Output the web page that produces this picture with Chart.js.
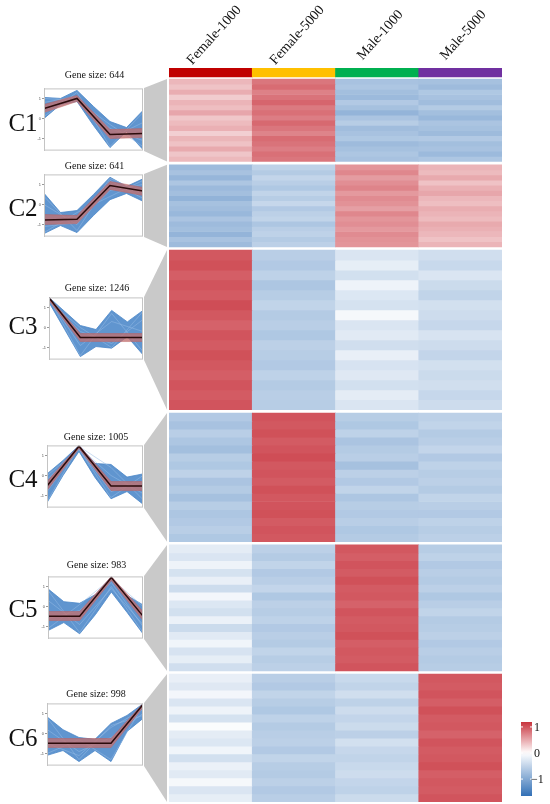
<!DOCTYPE html>
<html lang="en">
<head>
<meta charset="UTF-8">
<title>Gene expression clusters</title>
<script src="https://cdn.jsdelivr.net/npm/chart.js"></script>
<style>
    body {
        margin: 0;
        background: #fff;
        font-family: "Liberation Serif", "Times New Roman", serif;
        color: #111;
    }
    #page {
        position: relative;
        width: 550px;
        height: 804px;
        overflow: hidden;
    }
    canvas { position: absolute; }
    .lab { position: absolute; white-space: nowrap; line-height: 1; }
    .clu { font-size: 25px; transform: translate(-50%, -50%); }
    .gsz { font-size: 10px; transform: translate(-50%, -50%); }
    .col { font-size: 14px; transform: translate(-50%, -50%) rotate(-48deg); }
    .cbl { font-size: 12px; transform: translateY(-50%); }
</style>
</head>
<body>
<div id="page">
    <canvas id="heat" width="550" height="804" style="left:0;top:0"></canvas>
</div>

<script>
// ---- data ----
const columns = ['Female-1000', 'Female-5000', 'Male-1000', 'Male-5000'];
const groupColors = ['#c00000', '#ffc000', '#00b050', '#7030a0'];
const clusterNames = ['C1', 'C2', 'C3', 'C4', 'C5', 'C6'];
const geneSizes = [644, 641, 1246, 1005, 983, 998];
const legendTicks = [1, 0, -1];

// profile plots: x positions of the 4 conditions and of the envelope samples
const profX = [1, 2, 3, 4];
const envX = [1, 1.5, 2, 2.5, 3, 3.5, 4];

const centroids = [
    [0.5, 1.0, -0.8, -0.75],
    [-0.77, -0.74, 0.95, 0.67],
    [1.48, -0.5, -0.5, -0.5],
    [-0.52, 1.46, -0.52, -0.52],
    [-0.48, -0.48, 1.44, -0.48],
    [-0.48, -0.48, -0.48, 1.44]
];
const coreUpper = [
    [0.7, 1.15, -0.55, -0.5],
    [-0.5, -0.55, 1.15, 0.85],
    [1.5, -0.3, -0.3, -0.3],
    [-0.3, 1.5, -0.3, -0.3],
    [-0.25, -0.25, 1.5, -0.25],
    [-0.25, -0.25, -0.25, 1.5]
];
const coreLower = [
    [0.3, 0.85, -1.0, -0.95],
    [-1.0, -0.95, 0.75, 0.45],
    [1.35, -0.7, -0.7, -0.7],
    [-0.75, 1.35, -0.75, -0.75],
    [-0.7, -0.7, 1.3, -0.7],
    [-0.7, -0.7, -0.7, 1.3]
];
const upperEnv = [
    [1.05, 1.0, 1.4, 0.6, -0.15, -0.45, 0.4],
    [0.56, -0.4, -0.3, 0.5, 1.36, 0.9, 1.28],
    [1.5, 0.8, 0.1, -0.1, 0.85, 0.28, 0.85],
    [0.08, 0.75, 1.5, 0.6, 0.55, -0.08, 0.08],
    [0.88, 0.24, 0.16, 0.6, 1.48, 0.55, 0.08],
    [0.83, 0.19, -0.2, -0.29, 0.5, 0.9, 1.48]
];
const lowerEnv = [
    [0.0, 0.7, 0.85, -0.35, -1.45, -0.65, -1.55],
    [-1.45, -1.05, -1.4, -0.55, 0.24, 0.55, 0.16],
    [1.25, -0.1, -1.45, -0.95, -1.03, -0.46, -1.36],
    [-1.35, 0.0, 1.2, -0.1, -1.16, -0.8, -1.43],
    [-1.2, -0.8, -1.36, -0.4, 0.72, -0.3, -1.36],
    [-1.09, -0.85, -1.4, -0.85, -1.4, 0.1, 0.75]
];
// a few individual gene traces per cluster (light strands in the bundle)
const geneTraces = [
    [[1.0, 0.9, -0.3, -1.4], [0.1, 1.3, -1.4, 0.3], [0.8, 1.1, -1.0, -0.2], [0.3, 0.95, -0.5, -1.1]],
    [[0.4, -1.3, 1.2, 0.3], [-1.4, -0.4, 0.4, 1.2], [0.0, -1.0, 1.3, 0.6], [-1.1, -0.9, 0.7, 1.0]],
    [[1.3, 0.0, -1.0, 0.8], [1.45, -1.4, 0.7, -1.2], [1.4, -0.9, 0.3, -0.2], [1.3, -0.2, -0.8, 0.4]],
    [[0.0, 1.3, -1.1, 0.0], [-1.3, 1.45, 0.4, -1.2], [-0.8, 1.4, 0.0, -0.9], [-0.2, 1.3, -0.8, -0.3]],
    [[0.8, -1.3, 1.0, -1.3], [-1.1, 0.1, 1.4, 0.0], [0.3, -0.9, 0.9, -0.9], [-0.6, -0.2, 1.2, -1.0]],
    [[0.8, -1.3, 0.4, 0.9], [-1.0, -0.3, -1.3, 1.4], [0.2, -0.9, -0.2, 1.0], [-0.5, -1.1, 0.3, 1.2]]
];

// heatmap rows (scaled expression), one row = [F-1000, F-5000, M-1000, M-5000]
const heatC1 = [
    [0.42, 0.80, -0.70, -0.72], [0.35, 0.86, -0.66, -0.78], [0.48, 0.74, -0.74, -0.64], [0.30, 0.82, -0.80, -0.70],
    [0.44, 0.90, -0.62, -0.76], [0.38, 0.78, -0.72, -0.60], [0.52, 0.84, -0.86, -0.74], [0.33, 0.76, -0.68, -0.82],
    [0.40, 0.88, -0.58, -0.68], [0.46, 0.80, -0.76, -0.72], [0.28, 0.72, -0.70, -0.78], [0.43, 0.86, -0.64, -0.62],
    [0.36, 0.82, -0.78, -0.74], [0.50, 0.76, -0.72, -0.70], [0.34, 0.84, -0.66, -0.80], [0.41, 0.80, -0.70, -0.66]
];
const heatC2 = [
    [-0.78, -0.52, 0.62, 0.44], [-0.70, -0.60, 0.70, 0.40], [-0.84, -0.48, 0.58, 0.50], [-0.66, -0.56, 0.66, 0.36],
    [-0.80, -0.64, 0.72, 0.46], [-0.74, -0.50, 0.60, 0.52], [-0.88, -0.58, 0.68, 0.42], [-0.72, -0.46, 0.64, 0.38],
    [-0.76, -0.62, 0.56, 0.48], [-0.82, -0.54, 0.70, 0.44], [-0.68, -0.50, 0.62, 0.40], [-0.78, -0.66, 0.66, 0.50],
    [-0.74, -0.56, 0.60, 0.46], [-0.86, -0.52, 0.68, 0.42], [-0.70, -0.60, 0.64, 0.36], [-0.78, -0.54, 0.62, 0.44]
];
const heatC3 = [
    [0.98, -0.56, -0.30, -0.38], [1.02, -0.62, -0.20, -0.44], [0.94, -0.52, -0.36, -0.30], [1.00, -0.66, -0.14, -0.42],
    [0.96, -0.58, -0.28, -0.50], [1.04, -0.50, -0.34, -0.36], [0.98, -0.60, -0.08, -0.40], [0.92, -0.56, -0.30, -0.46],
    [1.00, -0.64, -0.24, -0.32], [0.96, -0.54, -0.38, -0.40], [1.02, -0.58, -0.18, -0.48], [0.98, -0.62, -0.32, -0.36],
    [0.94, -0.52, -0.26, -0.42], [1.00, -0.60, -0.36, -0.38], [0.96, -0.56, -0.22, -0.46], [1.00, -0.58, -0.30, -0.40]
];
const heatC4 = [
    [-0.62, 1.00, -0.58, -0.54], [-0.70, 0.98, -0.64, -0.50], [-0.56, 1.02, -0.52, -0.60], [-0.66, 0.96, -0.68, -0.56],
    [-0.74, 1.00, -0.60, -0.48], [-0.58, 1.04, -0.56, -0.62], [-0.64, 0.98, -0.72, -0.52], [-0.52, 1.00, -0.54, -0.58],
    [-0.68, 0.96, -0.62, -0.54], [-0.60, 1.02, -0.50, -0.60], [-0.72, 0.98, -0.66, -0.50], [-0.58, 1.00, -0.58, -0.56],
    [-0.66, 1.02, -0.62, -0.62], [-0.62, 0.96, -0.56, -0.52], [-0.56, 1.00, -0.64, -0.58], [-0.64, 0.98, -0.60, -0.54]
];
const heatC5 = [
    [-0.22, -0.54, 0.98, -0.58], [-0.30, -0.60, 0.94, -0.52], [-0.14, -0.50, 1.00, -0.62], [-0.34, -0.62, 0.96, -0.56],
    [-0.18, -0.56, 1.02, -0.60], [-0.40, -0.48, 0.96, -0.54], [-0.10, -0.64, 0.98, -0.64], [-0.28, -0.54, 0.92, -0.56],
    [-0.36, -0.58, 1.00, -0.50], [-0.16, -0.52, 0.96, -0.60], [-0.42, -0.62, 0.98, -0.58], [-0.24, -0.56, 1.02, -0.54],
    [-0.12, -0.60, 0.94, -0.62], [-0.32, -0.50, 0.98, -0.56], [-0.20, -0.58, 0.96, -0.60], [-0.38, -0.54, 1.00, -0.58]
];
const heatC6 = [
    [-0.18, -0.56, -0.44, 0.98], [-0.26, -0.62, -0.50, 0.96], [-0.10, -0.50, -0.38, 1.00], [-0.30, -0.58, -0.52, 0.94],
    [-0.14, -0.64, -0.40, 1.02], [-0.34, -0.52, -0.48, 0.96], [-0.04, -0.60, -0.42, 0.98], [-0.22, -0.56, -0.54, 0.92],
    [-0.28, -0.54, -0.36, 1.00], [-0.12, -0.62, -0.46, 0.96], [-0.36, -0.50, -0.50, 0.98], [-0.16, -0.58, -0.44, 1.02],
    [-0.24, -0.60, -0.40, 0.94], [-0.08, -0.54, -0.48, 0.98], [-0.30, -0.62, -0.52, 0.96], [-0.20, -0.56, -0.42, 1.00]
];
const heatRows = [heatC1, heatC2, heatC3, heatC4, heatC5, heatC6];

// ---- layout ----
const HM = { left: 169, right: 502, top: 68, bottom: 802 };
const GAP = 25, HEAD = 70, HEAD_GAP = 16;     // in gene units on the heatmap y scale
const boxLeft = [44, 44, 49, 47, 48, 47];
const boxRight = 143;
const boxTop = [88, 174, 297, 445, 576, 703];
const boxH = 63;
const labelY = [122, 207, 325, 478, 608, 737];
const titleY = [75, 166, 288, 437, 565, 694];
const CB = { left: 521, right: 532, top: 722, bottom: 796, vmax: 1.19, vmin: -1.65 };

const RED = [200, 50, 60], BLUE = [50, 112, 182];
function mix(c, t) {
    return 'rgb(' + c.map(k => Math.round(255 + (k - 255) * t)).join(',') + ')';
}
function heatColor(v) {
    if (v >= 0) return mix(RED, Math.min(v / 1.2, 1));
    return mix(BLUE, Math.min(-v / 1.65, 1));
}

// cluster start positions on the y scale
const starts = [];
let acc = 0;
geneSizes.forEach((n, i) => { starts.push(acc); acc += n + (i < geneSizes.length - 1 ? GAP : 0); });
const yMax = acc;

const page = document.getElementById('page');
function addLabel(cls, text, x, y) {
    const d = document.createElement('div');
    d.className = 'lab ' + cls;
    d.textContent = text;
    d.style.left = x + 'px';
    d.style.top = y + 'px';
    page.appendChild(d);
}

// ---- heatmap ----
const datasets = [{
    label: 'group',
    data: columns.map(() => [-(HEAD + HEAD_GAP), -HEAD_GAP]),
    backgroundColor: groupColors
}];
heatRows.forEach((rows, i) => {
    const h = geneSizes[i] / rows.length;
    rows.forEach((row, r) => {
        const y0 = starts[i] + r * h;
        datasets.push({
            label: clusterNames[i] + '-' + r,
            data: row.map(() => [y0, y0 + h]),
            backgroundColor: row.map(heatColor)
        });
    });
});

const decor = {
    id: 'decor',
    beforeDatasetsDraw(chart) {
        const ctx = chart.ctx, y = chart.scales.y;
        ctx.save();
        ctx.fillStyle = '#c9c9c9';
        geneSizes.forEach((n, i) => {
            ctx.beginPath();
            ctx.moveTo(boxRight + 1, boxTop[i]);
            ctx.lineTo(HM.left - 2, y.getPixelForValue(starts[i]));
            ctx.lineTo(HM.left - 2, y.getPixelForValue(starts[i] + n));
            ctx.lineTo(boxRight + 1, boxTop[i] + boxH);
            ctx.closePath();
            ctx.fill();
        });
        ctx.restore();
    },
    afterDraw(chart) {
        // colour key
        const ctx = chart.ctx;
        const g = ctx.createLinearGradient(0, CB.top, 0, CB.bottom);
        const span = CB.vmax - CB.vmin;
        for (let k = 0; k <= 20; k++) {
            const v = CB.vmax - span * k / 20;
            g.addColorStop(k / 20, heatColor(v));
        }
        ctx.save();
        ctx.fillStyle = g;
        ctx.fillRect(CB.left, CB.top, CB.right - CB.left, CB.bottom - CB.top);
        ctx.strokeStyle = '#fff';
        ctx.lineWidth = 1;
        legendTicks.forEach(v => {
            const py = CB.top + (CB.vmax - v) / span * (CB.bottom - CB.top);
            ctx.beginPath();
            ctx.moveTo(CB.left, py); ctx.lineTo(CB.left + 2, py);
            ctx.moveTo(CB.right - 2, py); ctx.lineTo(CB.right, py);
            ctx.stroke();
        });
        ctx.restore();
    }
};

new Chart(document.getElementById('heat'), {
    type: 'bar',
    data: { labels: columns, datasets: datasets },
    options: {
        responsive: false,
        animation: false,
        events: [],
        layout: { padding: { left: HM.left, right: 550 - HM.right, top: HM.top, bottom: 804 - HM.bottom } },
        datasets: { bar: { grouped: false, barPercentage: 1, categoryPercentage: 1, borderWidth: 0 } },
        plugins: { legend: { display: false }, tooltip: { enabled: false } },
        scales: {
            x: { display: false },
            y: { display: false, reverse: true, min: -(HEAD + HEAD_GAP), max: yMax }
        }
    },
    plugins: [decor]
});

// ---- cluster profile plots ----
const frame = {
    id: 'frame',
    afterDraw(chart) {
        const a = chart.chartArea, ctx = chart.ctx;
        ctx.save();
        ctx.strokeStyle = '#c4c4c4';
        ctx.lineWidth = 1;
        ctx.strokeRect(a.left + 0.5, a.top + 0.5, a.right - a.left - 1, a.bottom - a.top - 1);
        ctx.restore();
    }
};
function xy(xs, ys) { return ys.map((v, k) => ({ x: xs[k], y: v })); }

clusterNames.forEach((name, i) => {
    const c = document.createElement('canvas');
    const w = boxRight - boxLeft[i] + 11, h = boxH + 6;
    c.width = w; c.height = h;
    c.style.left = (boxLeft[i] - 10) + 'px';
    c.style.top = (boxTop[i] - 3) + 'px';
    page.appendChild(c);
    const sets = [
        { label: 'centroid', data: xy(profX, centroids[i]), borderColor: '#2b0b0b', borderWidth: 1.5, order: 0 },
        { label: 'core', data: xy(profX, coreUpper[i]), borderColor: 'rgba(190,95,95,0.8)', borderWidth: 0.6,
          backgroundColor: 'rgba(192,112,112,0.78)', fill: '+1', order: 1 },
        { label: 'core low', data: xy(profX, coreLower[i]), borderColor: 'rgba(190,95,95,0.8)', borderWidth: 0.6, order: 1 },
        { label: 'genes', data: xy(envX, upperEnv[i]), borderColor: '#4a86c8', borderWidth: 0.8,
          backgroundColor: 'rgba(74,134,200,0.88)', fill: '+1', order: 3 },
        { label: 'genes low', data: xy(envX, lowerEnv[i]), borderColor: '#4a86c8', borderWidth: 0.8, order: 3 }
    ];
    geneTraces[i].forEach((t, k) => sets.push({
        label: 'gene ' + k, data: xy(profX, t), borderColor: 'rgba(150,188,230,0.85)', borderWidth: 0.6, order: 2
    }));
    new Chart(c, {
        type: 'line',
        data: { datasets: sets },
        options: {
            responsive: false,
            animation: false,
            events: [],
            elements: { point: { radius: 0 }, line: { tension: 0 } },
            layout: { padding: { top: 3, bottom: 3, right: 1, left: 0 } },
            plugins: { legend: { display: false }, tooltip: { enabled: false } },
            scales: {
                x: { type: 'linear', min: 1, max: 4, display: false },
                y: {
                    min: -1.6, max: 1.5,
                    afterFit(s) { s.width = 10; },
                    afterBuildTicks(s) { s.ticks = [{ value: -1 }, { value: 0 }, { value: 1 }]; },
                    ticks: { font: { size: 4 }, color: '#555', padding: 1 },
                    grid: { drawOnChartArea: false, tickLength: 2, color: '#999' },
                    border: { color: '#c4c4c4' }
                }
            }
        },
        plugins: [frame]
    });
    addLabel('clu', name, 23, labelY[i]);
    addLabel('gsz', 'Gene size: ' + geneSizes[i], (boxLeft[i] + boxRight) / 2 + 1, titleY[i]);
});

// ---- column headers and colour key labels ----
const colW = (HM.right - HM.left) / columns.length;
columns.forEach((name, j) => addLabel('col', name, HM.left + (j + 0.5) * colW + 3, 35));
legendTicks.forEach(v => {
    const py = CB.top + (CB.vmax - v) / (CB.vmax - CB.vmin) * (CB.bottom - CB.top);
    addLabel('cbl', v < 0 ? '\u2212' + Math.abs(v) : String(v), v < 0 ? 531 : 534, py);
});
</script>
</body>
</html>
